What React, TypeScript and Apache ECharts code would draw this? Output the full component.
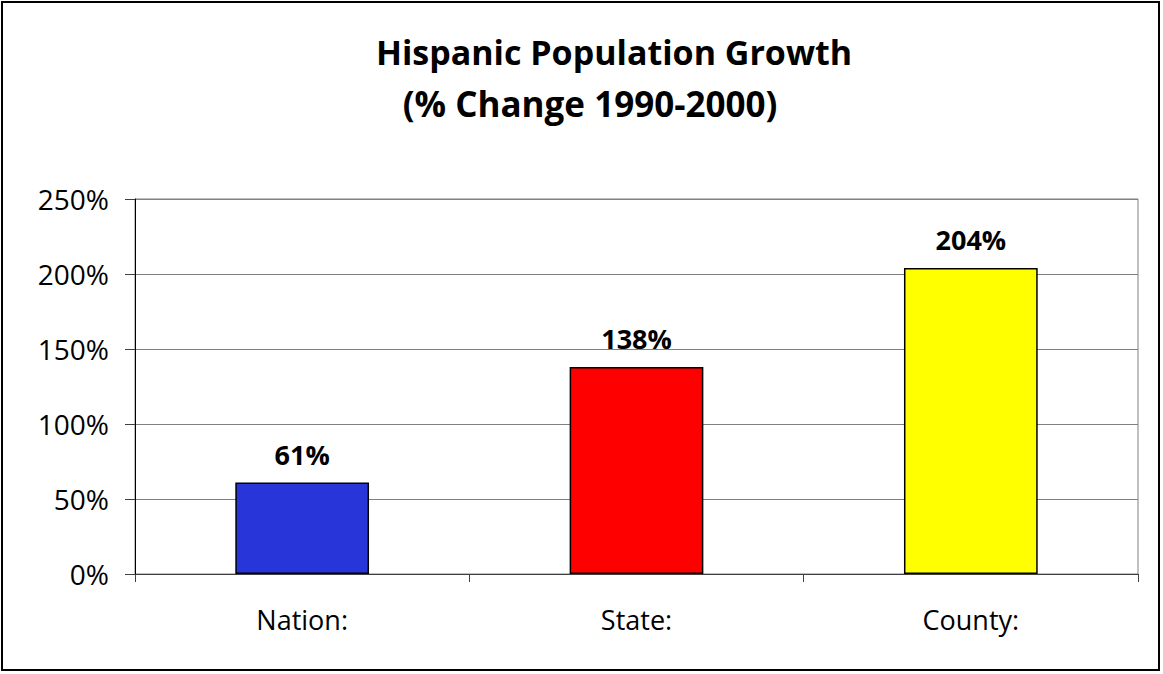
import React, { useEffect, useRef } from "react";
import * as echarts from "echarts";

const categories = ["Nation:", "State:", "County:"];
const values = [61, 138, 204];
const barColors = ["#2835D8", "#FF0000", "#FFFF00"];
const titleLines = ["Hispanic Population Growth", "(% Change 1990-2000)"];

export default function App() {
  const ref = useRef<HTMLDivElement>(null);
  useEffect(() => {
    if (!ref.current) return;
    const chart = echarts.init(ref.current, undefined, { renderer: "svg" });
    chart.setOption({
      animation: false,
      backgroundColor: "#fff",
      textStyle: { fontFamily: "Open Sans" },
      graphic: [
        {
          type: "rect",
          shape: { x: 2, y: 2, width: 1157, height: 668 },
          style: { fill: "none", stroke: "#000", lineWidth: 2 },
          z: 0,
        },
        {
          type: "text",
          x: 614,
          y: 52,
          style: {
            text: titleLines[0],
            font: "bold 34px 'Open Sans'",
            fill: "#000",
            textAlign: "center",
            textVerticalAlign: "middle",
          },
        },
        {
          type: "text",
          x: 590,
          y: 103,
          style: {
            text: titleLines[1],
            font: "bold 35px 'Open Sans'",
            fill: "#000",
            textAlign: "center",
            textVerticalAlign: "middle",
          },
        },
      ],
      grid: {
        left: 135,
        right: 25,
        top: 199,
        bottom: 100,
        show: true,
        borderColor: "#808080",
        borderWidth: 1,
        containLabel: false,
      },
      xAxis: {
        type: "category",
        data: categories,
        axisLine: { show: true, lineStyle: { color: "#404040", width: 1 } },
        axisTick: { show: true, length: 8, lineStyle: { color: "#404040" } },
        axisLabel: {
          margin: 32,
          fontSize: 27,
          color: "#000",
          fontFamily: "Open Sans",
        },
      },
      yAxis: {
        type: "value",
        min: 0,
        max: 250,
        interval: 50,
        axisLine: { show: true, lineStyle: { color: "#000", width: 1 } },
        axisTick: { show: true, length: 10, lineStyle: { color: "#404040" } },
        axisLabel: {
          formatter: "{value}%",
          margin: 26,
          fontSize: 28,
          color: "#000",
          fontFamily: "Open Sans",
        },
        splitLine: { show: true, lineStyle: { color: "#808080", width: 1 } },
      },
      series: [
        {
          type: "bar",
          barWidth: "40%",
          data: values.map((v, i) => ({
            value: v,
            itemStyle: { color: barColors[i], borderColor: "#000", borderWidth: 1.5 },
          })),
          label: {
            show: true,
            position: "top",
            distance: 15,
            formatter: "{c}%",
            fontSize: 27,
            fontWeight: "bold",
            color: "#000",
            fontFamily: "Open Sans",
          },
        },
      ],
    });
    return () => chart.dispose();
  }, []);
  return (
    <div
      ref={ref}
      style={{ position: "absolute", left: 0, top: 0, width: 1163, height: 674 }}
    />
  );
}
